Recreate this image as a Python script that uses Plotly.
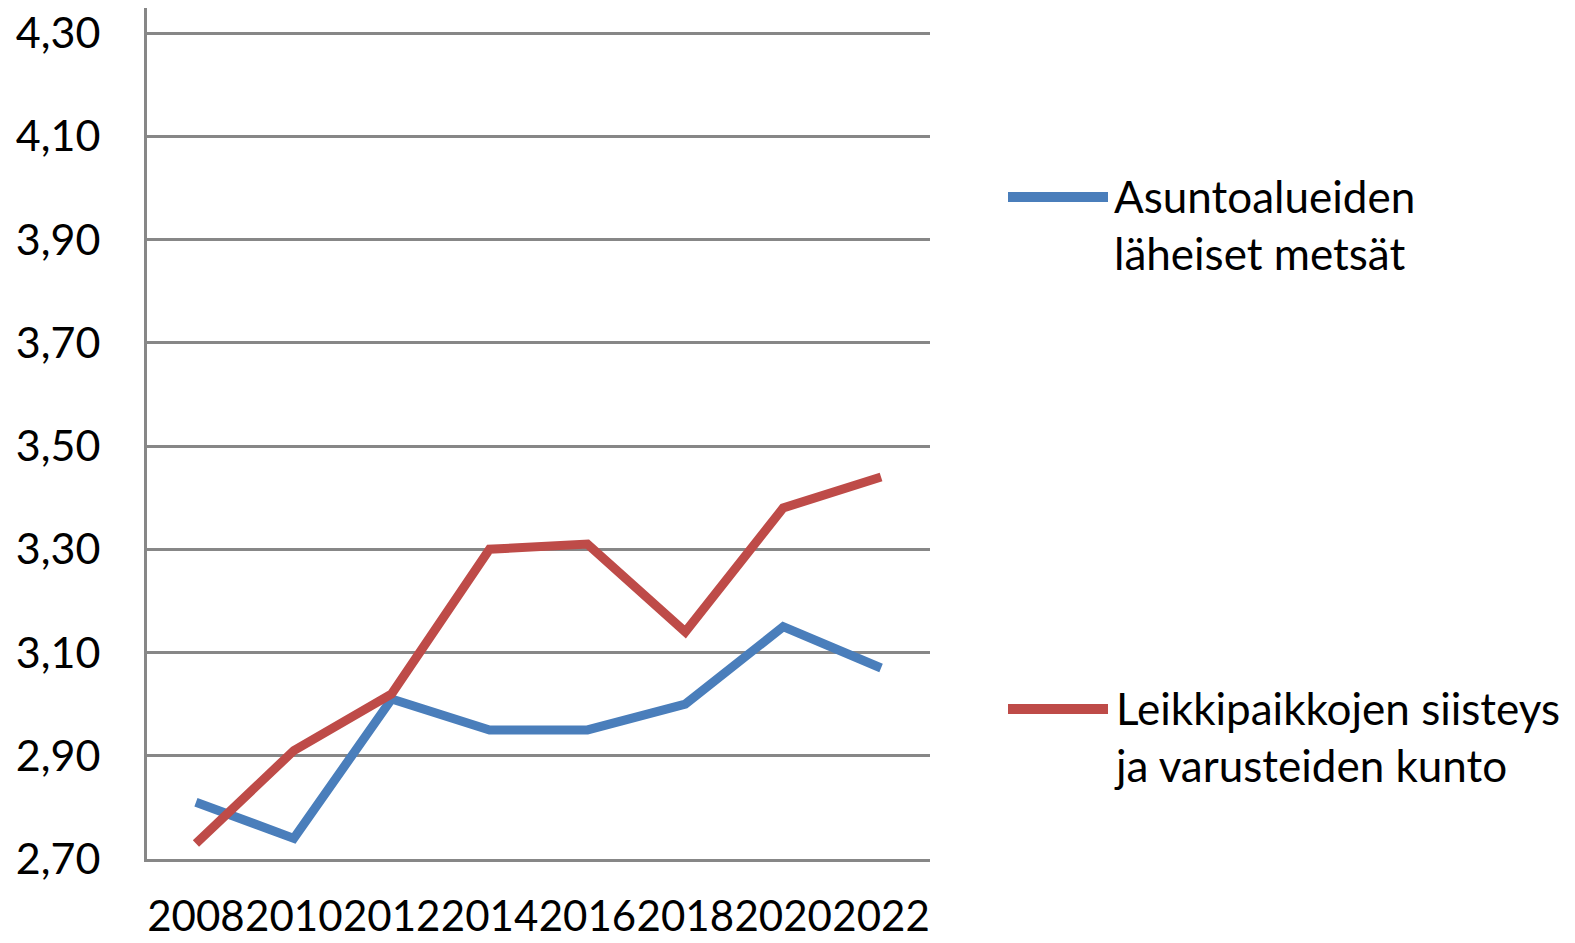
"""Kuntalaiskysely: asuntoalueiden metsät ja leikkipaikat 2008-2022."""

import plotly.graph_objects as go

years = ["2008", "2010", "2012", "2014", "2016", "2018", "2020", "2022"]
metsat = [2.81, 2.74, 3.01, 2.95, 2.95, 3.00, 3.15, 3.07]
leikkipaikat = [2.73, 2.91, 3.02, 3.30, 3.31, 3.14, 3.38, 3.44]
series_names = [
    "Asuntoalueiden<br>läheiset metsät",
    "Leikkipaikkojen siisteys<br>ja varusteiden kunto",
]
y_ticks = [2.70, 2.90, 3.10, 3.30, 3.50, 3.70, 3.90, 4.10, 4.30]
y_ticktext = [f"{v:.2f}".replace(".", ",") for v in y_ticks]

BLUE = "#4A7EBB"
RED = "#BE4B48"
GRID = "#878787"
FONT = "Lato, Carlito, Calibri, sans-serif"

# the page body has an 8px margin, so the figure is drawn 8px in from the window edge
OFF = 8
FIG_W, FIG_H = 1575 - 2 * OFF, 943 - 2 * OFF

# plot area in window pixels
L, R, T, B = 147, 930, 8, 859
W, H = R - L, B - T


def px_x(x):
    return (x - L) / W


def px_y(y):
    return (B - y) / H


fig = go.Figure()

fig.add_trace(go.Scatter(x=years, y=metsat, mode="lines", name=series_names[0],
                         line=dict(color=BLUE, width=9)))
fig.add_trace(go.Scatter(x=years, y=leikkipaikat, mode="lines", name=series_names[1],
                         line=dict(color=RED, width=9)))

# legend drawn by hand so the line samples are as long as in the original
legend_rows = [(197, 224, BLUE), (709, 736, RED)]
for name, (line_y, text_y, color) in zip(series_names, legend_rows):
    fig.add_shape(type="line", xref="paper", yref="paper",
                  x0=px_x(1008), x1=px_x(1108), y0=px_y(line_y), y1=px_y(line_y),
                  line=dict(color=color, width=10))
    fig.add_annotation(xref="paper", yref="paper", x=px_x(1112), y=px_y(text_y),
                       xanchor="left", yanchor="middle", align="left", showarrow=False,
                       text=name, font=dict(family=FONT, size=44, color="black"))

fig.update_layout(
    width=FIG_W,
    height=FIG_H,
    margin=dict(l=L - OFF, r=FIG_W - (R - OFF), t=T - OFF, b=FIG_H - (B - OFF)),
    plot_bgcolor="white",
    paper_bgcolor="white",
    showlegend=False,
    font=dict(family=FONT, size=43, color="black"),
)

fig.update_xaxes(
    type="category",
    range=[-0.5, 7.5],
    tickmode="array",
    tickvals=years,
    ticktext=years,
    tickangle=0,
    automargin=False,
    ticklabeloverflow="allow",
    showgrid=False,
    showline=True,
    linecolor=GRID,
    linewidth=3,
    ticks="",
    ticklabelstandoff=19,
    tickfont=dict(family=FONT, size=42, color="black"),
)

fig.update_yaxes(
    range=[2.70, 4.30 + (33 - T) / ((B - 33) / 1.6)],
    tickmode="array",
    tickvals=y_ticks,
    ticktext=y_ticktext,
    automargin=False,
    ticklabeloverflow="allow",
    showgrid=True,
    gridcolor=GRID,
    gridwidth=3,
    zeroline=False,
    showline=True,
    linecolor=GRID,
    linewidth=3,
    ticks="",
    ticklabelstandoff=35,
    tickfont=dict(family=FONT, size=43, color="black"),
)

fig.write_html("out.html")
